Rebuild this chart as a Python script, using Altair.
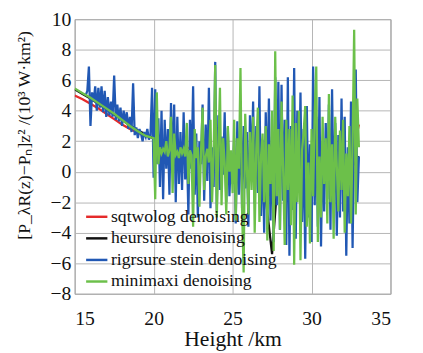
import altair as alt
import numpy as np
import pandas as pd

series_names = ["sqtwolog denoising", "heursure denoising",
                "rigrsure stein denoising", "minimaxi denoising"]
series_colors = ["#e52a2a", "#111111", "#2158b4", "#6cc04a"]

# sampling grids (km)
h_smooth = list(np.round(np.arange(15.0, 19.51, 0.5), 2))      # 15.0 .. 19.5
h_coarse = list(np.round(np.arange(20.0, 33.01, 0.5), 2))      # 20.0 .. 33.0
h_blue_lo = list(np.round(np.arange(15.7, 19.91, 0.1), 2))     # 15.7 .. 19.9
h_fine = list(np.round(np.arange(20.0, 33.01, 0.1), 2))        # 20.0 .. 33.0

red_smooth = [5.0, 4.75, 4.45, 4.15, 3.8, 3.45, 3.1, 2.8, 2.55, 2.35]
red_coarse = [2.2, 2.0, 1.8, 1.7, 1.6, 1.5, 1.4, 1.3, 1.0, 0.9, 0.8, 0.7, 0.6, 0.5,
              0.5, 0.4, 0.4, 0.3, 0.4, 0.2, 0.3, 0.4, 0.2, 0.3, 0.4, 0.6, 3.1]

black_smooth = [5.4, 5.1, 4.8, 4.45, 4.1, 3.75, 3.4, 3.05, 2.7, 2.45]
black_coarse = [2.2, 1.8, 1.6, 1.5, 1.3, 1.4, 1.1, 1.0, 0.7, 0.9, 0.5, 0.8, 0.0, 1.2,
                -0.8, -5.4, 1.5, -0.5, 0.6, -1.2, 1.0, -0.6, 0.4, -0.9, 0.8, 0.2, 1.0]

blue_lo = [5.0, 5.3, 6.9, 3.0, 5.2, 4.6, 5.6, 4.0, 5.5, 4.2,
           5.6, 3.9, 5.3, 3.6, 4.9, 3.7, 4.6, 3.6, 6.3, 3.4,
           4.4, 3.3, 4.2, 3.0, 4.0, 3.2, 3.9, 2.8, 3.6, 2.6,
           5.8, 2.4, 2.9, 2.2, 2.8, 2.5, 2.0, 2.6, 2.3, 2.8,
           2.1, 2.4, 5.5]
blue_hi = [-0.4, 5.4, 0.5, 3.5, -1.0, 4.0, -1.8, 3.4, 0.2, 2.8,
           -1.5, 4.5, 0.0, 4.4, -2.0, 3.6, -0.8, 2.6, -1.2, 3.9,
           -0.5, 1.8, -2.8, 3.4, 0.2, 5.6, -1.5, 2.5, -3.0, 2.0,
           0.5, 4.4, -1.9, 3.1, -0.6, 5.5, -2.4, 1.6, -1.0, 7.2,
           -2.6, 3.7, -1.2, 2.3, -0.2, 3.9, -2.0, 2.9, -1.6, 1.2,
           -0.8, 2.2, -3.4, 3.3, -1.5, 4.3, -2.4, 3.0, -1.1, 2.6,
           -3.6, 3.7, 0.0, 4.6, -2.1, 3.0, -1.4, 5.6, -2.9, 2.1,
           -4.0, 3.9, -1.4, 4.8, -3.2, 2.3, -4.6, 6.2, -2.2, 5.9,
           -3.8, 5.7, -1.9, 3.4, -4.8, 6.2, -5.5, 3.0, -2.5, 6.8,
           -4.4, 4.0, -1.2, 5.2, -3.3, 2.8, -5.7, 4.3, -3.0, 1.8,
           -4.6, 6.9, -2.2, 3.6, -3.6, 4.9, -4.9, 2.0, -2.6, 3.2,
           -1.8, 4.4, -3.8, 5.4, -2.3, 3.2, -4.2, 2.4, -3.0, 4.8,
           -2.6, 3.6, -5.5, 1.6, -3.4, 4.6, -5.0, 2.6, 6.7, -2.0,
           1.0]

green_smooth = [5.45, 5.15, 4.85, 4.5, 4.15, 3.8, 3.4, 3.0, 2.65, 2.35]
green_hi = [2.2, -1.8, 5.2, 0.5, 1.6, 1.2, 1.5, 1.3, 2.0, 1.0,
            1.4, 3.6, -1.4, 2.5, 1.1, 1.3, 0.9, 1.6, 1.2, 1.5,
            1.0, 3.2, -0.8, 1.4, 1.1, -3.6, 2.8, 0.9, 1.6, -2.3,
            1.3, 4.2, -1.2, 1.0, 1.5, 0.6, 3.4, -2.0, 1.2, 7.0,
            -3.0, 1.6, 5.5, -2.2, 2.2, 0.6, -2.8, 3.0, 0.0, 1.4,
            -1.4, 3.4, -3.2, 2.2, 0.2, 6.8, -2.5, -6.6, 3.8, 0.4,
            -2.8, 2.6, -1.2, 3.6, -4.0, 1.5, 4.2, -3.3, 1.0, 2.5,
            -2.0, 3.0, -4.5, 1.8, -0.8, 4.0, -5.2, 7.9, -1.6, 2.8,
            -3.8, 4.6, 0.2, -4.8, 3.4, -1.2, 2.8, -3.5, 5.0, -6.1,
            3.2, -2.0, 4.0, -5.8, 1.4, 2.6, 4.3, -3.6, 0.6, -4.7,
            2.8, -1.6, 3.8, 6.9, -4.6, 1.0, -3.0, 3.6, -0.8, 2.2,
            -3.4, 5.1, -2.0, 1.8, -4.4, 3.6, 0.4, -2.6, 2.7, -1.2,
            3.4, -4.0, 1.2, -1.6, 3.0, -3.4, 2.0, 9.3, -2.8, 4.8,
            1.6]

x_ticks = [15, 20, 25, 30, 35]
y_ticks = [-8, -6, -4, -2, 0, 2, 4, 6, 8, 10]

rows = []
def add(name, hs, vs):
    assert len(hs) == len(vs), (name, len(hs), len(vs))
    for i, (h, v) in enumerate(zip(hs, vs)):
        rows.append({"series": name, "height": float(h), "value": v, "i": i})

add(series_names[0], h_smooth + h_coarse, red_smooth + red_coarse)
add(series_names[1], h_smooth + h_coarse, black_smooth + black_coarse)
add(series_names[2], h_blue_lo + h_fine, blue_lo + blue_hi)
add(series_names[3], h_smooth + h_fine, green_smooth + green_hi)
df = pd.DataFrame(rows)

FONT = "Liberation Serif"

color = alt.Color(
    "series:N",
    scale=alt.Scale(domain=series_names, range=series_colors),
    legend=alt.Legend(
        title=None, orient="none", legendX=10, legendY=189, padding=0,
        symbolType="stroke", symbolSize=470, symbolStrokeWidth=2.5,
        labelFont=FONT, labelFontSize=18, labelColor="#111", labelOffset=2,
        rowPadding=0, labelLimit=400,
    ),
)

xenc = alt.X("height:Q", scale=alt.Scale(domain=[15, 35], nice=False),
             axis=alt.Axis(values=x_ticks, title="Height /km", grid=True,
                           ticks=False, domain=False, labelFont=FONT,
                           labelFontSize=20, labelPadding=15, labelColor="#111",
                           titleFont=FONT, titleFontSize=22, titleFontWeight="normal",
                           titleColor="#111", titlePadding=1))
yenc = alt.Y("value:Q", scale=alt.Scale(domain=[-8, 10], nice=False),
             axis=alt.Axis(values=y_ticks, title="[P_λR(z)−Pₙ]z² /(10³ W·km²)",
                           grid=True, ticks=False, domain=False, labelFont=FONT,
                           labelFontSize=20, labelPadding=4, labelColor="#111",
                           titleFont=FONT, titleFontSize=18, titleFontWeight="normal",
                           titleColor="#111", titleAngle=270, titleX=-51, titleY=118,
                           titleAlign="center", titleBaseline="middle"))

layers = []
for name in series_names:
    layers.append(
        alt.Chart(df).transform_filter(alt.datum.series == name)
        .mark_line(strokeWidth=2.3, clip=True)
        .encode(x=xenc, y=yenc, color=color, order="i:Q")
    )

chart = alt.layer(*layers).properties(
    width=322, height=280,
    autosize=alt.AutoSizeParams(type="none"),
    padding={"left": 68, "top": 8, "right": 25, "bottom": 57},
).configure(font=FONT).configure_view(stroke="#8a8a8a", strokeWidth=1).configure_axis(
    gridColor="#b5b5b5", gridWidth=1, labelFont=FONT, titleFont=FONT
).configure_legend(labelFont=FONT)

chart.save("out.html", embed_options={"renderer": "svg", "actions": False})
